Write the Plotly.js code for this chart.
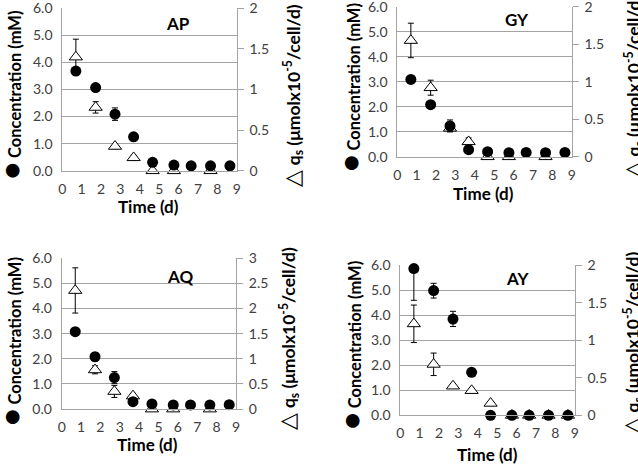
<!DOCTYPE html>
<html>
<head>
<meta charset="utf-8">
<script src="https://cdn.plot.ly/plotly-3.0.1.min.js"></script>
<style>html,body{margin:0;padding:0;background:#fff;}#chart{width:638px;height:464px;}</style>
</head>
<body>
<div id="chart"></div>
<script>
// ---------------- data ----------------
var panelNames = ["AP", "GY", "AQ", "AY"];
var time = [0.7, 1.72, 2.72, 3.68, 4.66, 5.76, 6.65, 7.65, 8.65];
var xTicks = [0, 1, 2, 3, 4, 5, 6, 7, 8, 9];

var concAP = [3.68, 3.07, 2.09, 1.25, 0.31, 0.21, 0.18, 0.18, 0.18];
var concErrAP = [null, 0.1, 0.23, null, null, null, null, null, null];
var qsAP = [1.40, 0.78, 0.30, 0.16, 0, 0, null, 0, null];
var qsErrAP = [0.22, 0.07, 0.03, 0.03, null, null, null, null, null];

var concGY = [3.09, 2.08, 1.23, 0.28, 0.20, 0.16, 0.17, 0.16, 0.17];
var concErrGY = [null, null, 0.24, null, null, null, null, null, null];
var qsGY = [1.55, 0.92, 0.38, 0.20, 0, 0, null, 0, null];
var qsErrGY = [0.23, 0.10, 0.04, 0.05, null, null, null, null, null];

var concAQ = [3.08, 2.08, 1.25, 0.29, 0.20, 0.16, 0.16, 0.16, 0.17];
var concErrAQ = [null, null, 0.24, null, null, null, null, null, null];
var qsAQ = [2.36, 0.78, 0.35, 0.26, 0, 0, null, 0, null];
var qsErrAQ = [0.45, 0.08, 0.12, 0.05, null, null, null, null, null];

var concAY = [5.87, 4.99, 3.85, 1.72, 0, 0, 0, 0, 0];
var concErrPlusAY = [0, 0.29, 0.31, null, null, null, null, null, null];
var concErrMinusAY = [1.27, 0.30, 0.30, null, null, null, null, null, null];
var qsAY = [1.22, 0.68, 0.39, 0.33, 0.16, 0, 0, 0, 0];
var qsErrAY = [0.25, 0.15, 0.03, 0.03, 0.02, null, null, null, null];

var concRange = [0, 6];
var qsRanges = [[0, 2], [0, 2], [0, 3], [0, 2]];

// ---------------- layout helpers ----------------
var W = 638, H = 464;
function px(x) { return x / W; }
function py(y) { return 1 - y / H; }

// plot boxes in pixels: [left, right, top, bottom]
var boxes = [
  [62.3, 236.7, 8.3, 170.7],
  [397.3, 571.7, 6.7, 156.7],
  [61.7, 236.0, 258.3, 409.0],
  [400.3, 574.7, 265.3, 415.3]
];
// title positions (pixels): left title, right title, x title; panel label (data coords)
var leftTitlePos = [[10, 95], [348, 87.5], [9.5, 342], [349.7, 345.6]];
var rightTitlePos = [[291.7, 95], [632, 87], [288, 338.6], [631, 343]];
var xTitlePos = [[148, 207], [483.7, 193], [147.7, 444.5], [487, 454]];
var labelPos = [[5.97, 5.42], [6.18, 5.47], [6.1, 5.26], [6.09, 5.46]];

var FONT = "Lato, 'Liberation Sans', sans-serif";
var gridCol = "#a3a3a3";
var tickCol = "#404040";

var concs = [concAP, concGY, concAQ, concAY];
var concErrs = [concErrAP, concErrGY, concErrAQ, null];
var qss = [qsAP, qsGY, qsAQ, qsAY];
var qsErrs = [qsErrAP, qsErrGY, qsErrAQ, qsErrAY];

var data = [];
var layout = {
  width: W, height: H,
  margin: {l: 0, r: 0, t: 0, b: 0},
  paper_bgcolor: "#fff", plot_bgcolor: "rgba(0,0,0,0)",
  showlegend: false,
  font: {family: FONT, size: 14, color: tickCol},
  annotations: []
};

for (var i = 0; i < 4; i++) {
  var b = boxes[i];
  var xn = i === 0 ? "" : String(i + 1);
  var yBase = String(2 * i + 1);       // right axis (qs)
  var yOver = String(2 * i + 2);       // left axis (concentration)
  var xid = "x" + xn;
  var yBaseId = yBase === "1" ? "y" : "y" + yBase;
  var yOverId = "y" + yOver;

  var tri = {
    x: time, y: qss[i], xaxis: xid, yaxis: yBaseId,
    type: "scatter", mode: "markers", cliponaxis: false,
    marker: {symbol: "triangle-up", size: 11.5, color: "#fff", line: {color: "#000", width: 1}},
    error_y: {type: "data", array: qsErrs[i], visible: true, color: "#000", thickness: 1, width: 3},
    hoverinfo: "x+y"
  };
  var circ = {
    x: time, y: concs[i], xaxis: xid, yaxis: yOverId,
    type: "scatter", mode: "markers", cliponaxis: false,
    marker: {symbol: "circle", size: 11, color: "#000"},
    hoverinfo: "x+y"
  };
  if (i === 3) {
    circ.error_y = {type: "data", symmetric: false, array: concErrPlusAY, arrayminus: concErrMinusAY,
      visible: true, color: "#000", thickness: 1, width: 3};
  } else {
    circ.error_y = {type: "data", array: concErrs[i], visible: true, color: "#000", thickness: 1, width: 3};
  }
  data.push(tri, circ);

  layout["xaxis" + xn] = {
    domain: [px(b[0]), px(b[1])], anchor: yBaseId,
    range: [0, 9], tickvals: xTicks, ticktext: xTicks.map(String),
    showgrid: false, zeroline: false, showline: true, linecolor: gridCol, linewidth: 1,
    ticks: "", ticklabelstandoff: 5, ticklabeloverflow: "allow",
    tickfont: {family: FONT, size: 14, color: tickCol}, fixedrange: true
  };
  layout["yaxis" + (yBase === "1" ? "" : yBase)] = {
    domain: [py(b[3]), py(b[2])], anchor: xid, side: "right",
    range: qsRanges[i], dtick: 0.5, showgrid: false, zeroline: false,
    showline: true, linecolor: gridCol, linewidth: 1,
    ticks: "outside", ticklen: 6, tickcolor: gridCol, tickwidth: 1, ticklabelstandoff: 3,
    ticklabeloverflow: "allow",
    tickfont: {family: FONT, size: 14, color: tickCol}, fixedrange: true
  };
  layout["yaxis" + yOver] = {
    domain: [py(b[3]), py(b[2])], anchor: xid, overlaying: yBaseId, side: "left",
    range: concRange, dtick: 1, tickformat: ".1f",
    showgrid: true, gridcolor: gridCol, gridwidth: 1, zeroline: false,
    showline: true, linecolor: gridCol, linewidth: 1,
    ticks: "", ticklabelstandoff: 6, ticklabeloverflow: "allow",
    tickfont: {family: FONT, size: 14, color: tickCol}, fixedrange: true
  };

  layout.annotations.push({
    text: "<b>" + panelNames[i] + "</b>", xref: xid, yref: yOverId,
    x: labelPos[i][0], y: labelPos[i][1], showarrow: false,
    xanchor: "center", yanchor: "middle",
    font: {family: FONT, size: 17, color: "#000"}
  });
  layout.annotations.push({
    text: '<span style="font-size:28px">●</span> <b>Concentration (mM)</b>',
    xref: "paper", yref: "paper", x: px(leftTitlePos[i][0]), y: py(leftTitlePos[i][1]),
    textangle: -90, showarrow: false, xanchor: "center", yanchor: "middle",
    font: {family: FONT, size: 16.5, color: "#000"}
  });
  layout.annotations.push({
    text: '<span style="font-size:22px">△</span> <b>q<sub>s</sub> (μmolx10<sup>-5</sup>/cell/d)</b>',
    xref: "paper", yref: "paper", x: px(rightTitlePos[i][0]), y: py(rightTitlePos[i][1]),
    textangle: -90, showarrow: false, xanchor: "center", yanchor: "middle",
    font: {family: FONT, size: 17.5, color: "#000"}
  });
  layout.annotations.push({
    text: "<b>Time (d)</b>",
    xref: "paper", yref: "paper", x: px(xTitlePos[i][0]), y: py(xTitlePos[i][1]),
    showarrow: false, xanchor: "center", yanchor: "middle",
    font: {family: FONT, size: 17, color: "#000"}
  });
}

Plotly.newPlot("chart", data, layout, {displayModeBar: false, staticPlot: true});
</script>
</body>
</html>
